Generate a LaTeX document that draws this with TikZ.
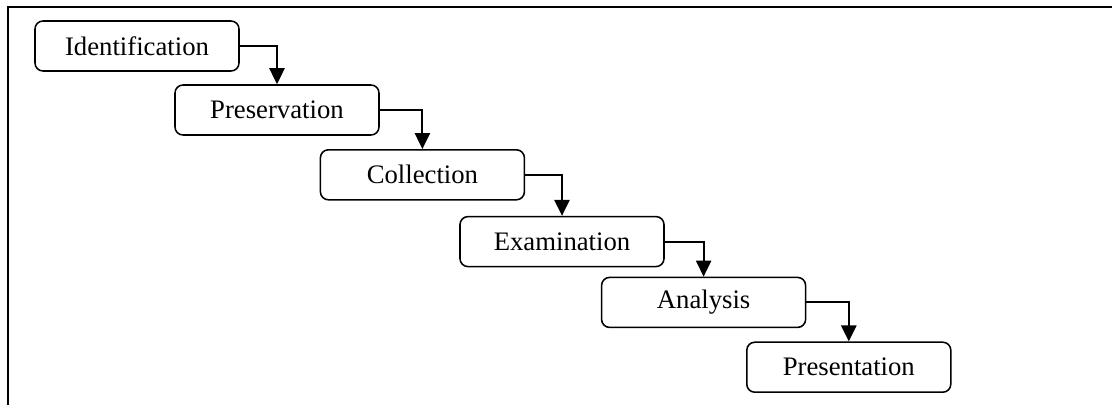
\documentclass[tikz,border=0pt]{standalone}
\usepackage{fontspec}
\setmainfont{Liberation Serif}
\usetikzlibrary{arrows.meta}
\begin{document}
\begin{tikzpicture}[
                box/.style={draw, line width=1.1pt, rectangle, rounded corners=0.2cm, minimum width=5.1cm, minimum height=1.25cm, align=center, font=\fontsize{19}{23}\selectfont},
                flow/.style={-{Triangle[length=0.4cm, width=0.38cm]}, line width=1.3pt}]

                \useasboundingbox (0,0) rectangle (27.8,-10.125);
                \draw[line width=1.3pt] (0.2,-10.125) -- (0.2,-0.175) -- (27.8,-0.175);

                \node[box] (ident) at (3.425,-1.15) {Identification};
                \node[box] (pres) at (6.925,-2.75) {Preservation};
                \node[box] (coll) at (10.56,-4.37) {Collection};
                \node[box] (exam) at (14.05,-6.04) {Examination};
                \node[box] (anal) at (17.59,-7.56) {Analysis};
                \node[box] (prsn) at (21.22,-9.18) {Presentation};

                \draw[flow] (ident) -| (pres);
                \draw[flow] (pres) -| (coll);
                \draw[flow] (coll) -| (exam);
                \draw[flow] (exam) -| (anal);
                \draw[flow] (anal) -| (prsn);
            \end{tikzpicture}
\end{document}
